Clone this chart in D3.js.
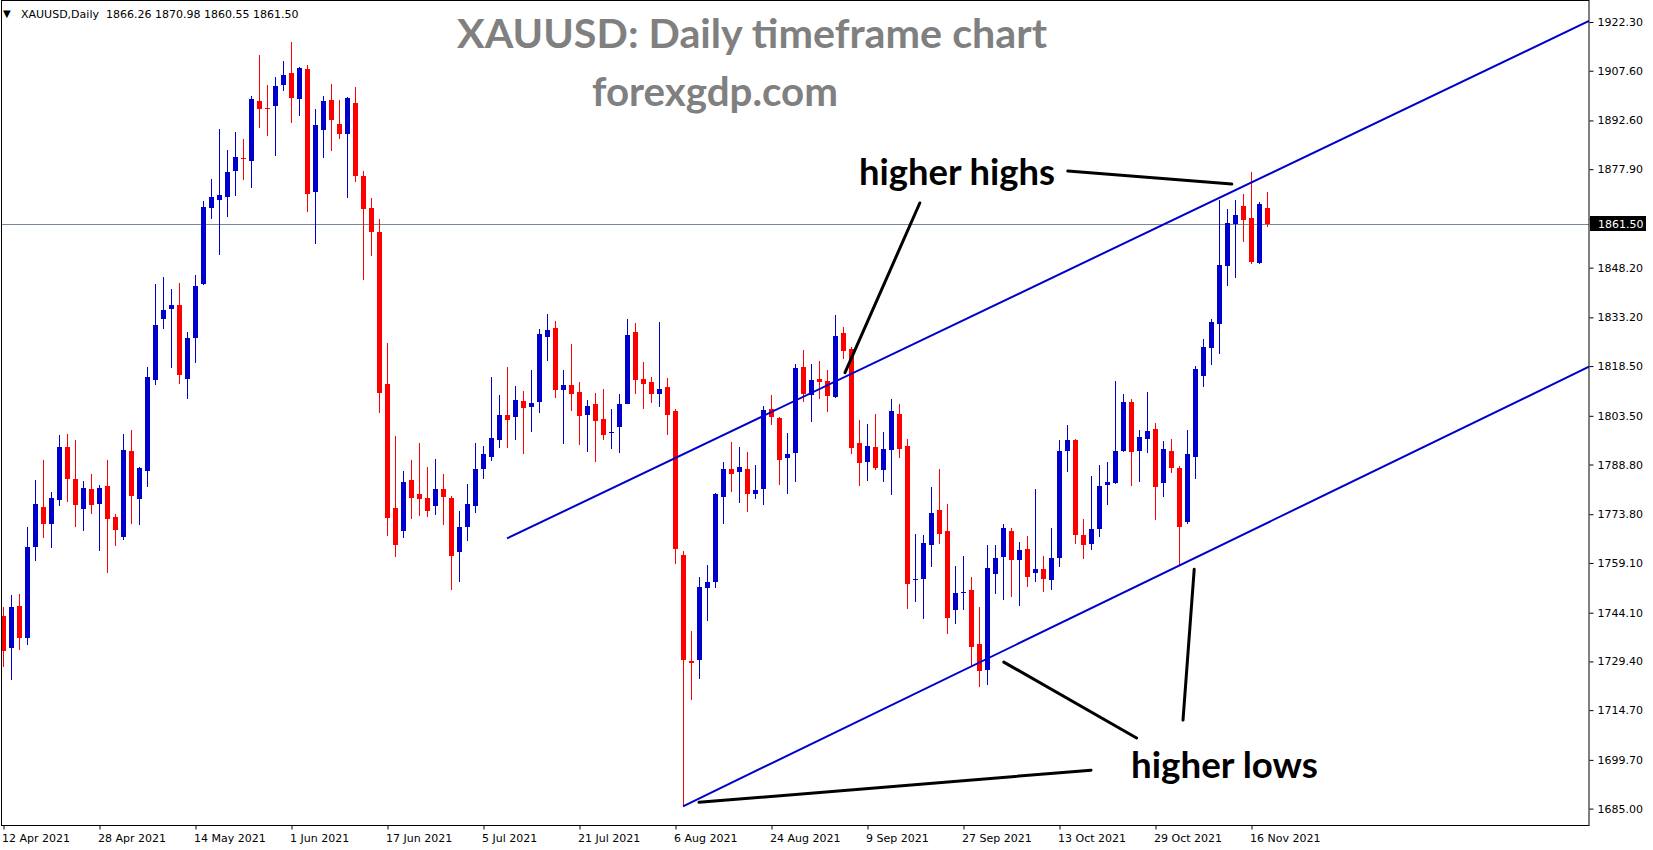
<!DOCTYPE html>
<html><head><meta charset="utf-8">
<script src="https://cdn.jsdelivr.net/npm/d3@7"></script>
<style>body{margin:0;background:#fff}svg{display:block}</style>
</head><body>
<svg id="chart" width="1653" height="850"></svg>
<script>
// ---------------- data ----------------
const symbol = "XAUUSD,Daily";
const opens = [1743.1,1733.6,1746.1,1736.5,1764.0,1776.0,1770.9,1778.2,1794.1,1784.4,1775.4,1781.4,1777.0,1782.3,1772.9,1767.0,1792.9,1778.5,1786.9,1814.4,
1832.8,1835.8,1836.9,1814.7,1827.1,1843.4,1866.3,1868.7,1869.5,1877.5,1881.4,1880.4,1898.5,1896.4,1897.0,1903.3,1906.9,1899.1,1908.2,1871.1,
1889.8,1898.7,1891.5,1888.6,1897.8,1875.8,1866.1,1858.9,1813.1,1775.6,1768.8,1784.1,1780.0,1778.7,1776.4,1781.3,1778.7,1762.5,1770.0,1776.4,
1787.3,1791.1,1796.3,1803.7,1803.0,1807.9,1806.2,1807.8,1827.3,1830.0,1811.4,1812.8,1810.6,1803.8,1807.1,1802.5,1798.2,1800.2,1807.2,1828.8,
1814.6,1813.7,1810.1,1812.2,1804.9,1761.5,1729.5,1729.9,1751.5,1753.4,1779.1,1787.4,1786.4,1787.4,1779.9,1781.5,1805.6,1802.8,1790.9,1792.3,
1818.2,1809.8,1814.6,1814.1,1809.2,1828.5,1823.6,1795.3,1789.6,1794.1,1787.2,1793.3,1804.0,1794.4,1753.9,1754.4,1764.6,1775.1,1768.7,1745.0,
1749.9,1751.0,1734.8,1726.9,1755.9,1761.0,1768.8,1760.1,1763.3,1756.2,1757.4,1754.1,1760.7,1793.0,1796.3,1767.5,1764.9,1769.5,1782.7,1783.1,
1793.0,1807.8,1793.0,1796.6,1799.6,1783.3,1793.0,1787.9,1771.6,1791.2,1815.6,1824.1,1831.3,1848.8,1861.5,1866.9,1863.3,1849.7,1866.26];
const highs = [1745.7,1749.3,1749.7,1769.9,1784.1,1790.2,1780.5,1797.7,1798.0,1796.2,1783.8,1785.9,1782.6,1790.2,1773.8,1798.0,1799.2,1788.0,1818.2,1843.3,
1845.4,1841.7,1843.6,1828.8,1846.0,1868.3,1874.9,1890.0,1883.7,1889.1,1887.0,1900.0,1912.4,1903.3,1905.7,1910.5,1916.3,1908.6,1909.3,1896.2,
1899.9,1903.6,1898.7,1899.8,1902.7,1877.3,1869.2,1862.9,1825.6,1797.4,1786.8,1790.1,1795.3,1788.0,1790.5,1786.0,1779.3,1774.8,1782.9,1795.3,
1794.4,1815.1,1809.9,1818.2,1812.5,1811.0,1817.3,1829.6,1834.2,1832.1,1817.3,1825.1,1813.7,1808.3,1810.3,1811.6,1805.5,1810.0,1832.7,1831.5,
1819.7,1815.2,1831.8,1814.9,1805.5,1762.7,1738.6,1755.0,1758.4,1780.2,1789.5,1795.6,1794.1,1792.6,1788.6,1806.5,1809.8,1803.2,1798.3,1819.1,
1823.3,1819.1,1820.0,1817.3,1833.9,1830.3,1824.3,1802.2,1801.0,1804.0,1798.6,1808.6,1807.1,1796.5,1767.9,1767.5,1782.0,1787.4,1776.9,1758.3,
1761.3,1754.9,1745.9,1764.6,1764.6,1770.9,1769.7,1765.5,1767.3,1781.5,1761.3,1769.7,1796.3,1800.8,1796.6,1772.4,1785.4,1788.8,1789.7,1814.1,
1810.2,1808.7,1799.3,1810.8,1801.4,1796.0,1796.6,1788.5,1799.3,1818.6,1826.8,1832.8,1868.7,1866.0,1868.7,1870.5,1877.0,1868.1,1870.98];
const lows = [1727.8,1723.7,1732.8,1734.3,1759.8,1766.7,1763.7,1776.4,1777.5,1770.0,1768.8,1773.9,1762.8,1756.1,1764.3,1766.1,1770.9,1770.6,1782.1,1812.9,
1829.8,1818.0,1813.2,1808.6,1819.5,1843.0,1862.9,1852.0,1863.5,1869.8,1874.6,1872.2,1890.3,1887.9,1881.9,1901.5,1891.8,1893.9,1865.1,1855.2,
1881.4,1883.5,1887.1,1869.3,1874.1,1844.5,1851.6,1804.4,1767.3,1761.0,1766.5,1772.5,1773.3,1773.0,1773.7,1770.6,1750.9,1753.5,1765.8,1774.2,
1784.4,1789.8,1793.7,1793.7,1796.3,1791.9,1798.7,1804.4,1820.0,1809.0,1795.0,1805.0,1794.7,1792.6,1789.5,1796.3,1793.5,1792.3,1807.1,1810.1,
1805.6,1807.3,1806.3,1797.8,1758.8,1685.7,1717.8,1724.1,1741.7,1751.5,1770.9,1780.5,1777.2,1774.4,1778.5,1776.7,1800.8,1782.6,1779.8,1783.6,
1807.8,1801.6,1808.6,1804.6,1808.9,1820.6,1792.1,1782.4,1783.9,1787.2,1783.6,1779.7,1790.9,1745.3,1747.4,1742.3,1758.0,1764.9,1737.8,1740.8,
1745.0,1728.1,1721.8,1722.4,1749.8,1748.0,1748.9,1746.2,1752.0,1753.5,1750.4,1751.0,1758.0,1786.6,1764.9,1760.4,1763.1,1767.0,1776.7,1782.8,
1792.7,1782.4,1783.6,1792.4,1772.2,1779.1,1786.3,1758.6,1770.9,1784.5,1812.3,1818.9,1822.2,1842.8,1845.2,1856.0,1849.4,1849.4,1860.55];
const closes = [1732.6,1745.7,1736.5,1763.9,1776.9,1770.9,1778.7,1794.1,1784.5,1776.7,1781.7,1776.7,1781.7,1772.4,1769.1,1793.2,1779.4,1787.7,1815.2,1830.9,
1835.4,1836.9,1815.9,1827.0,1842.7,1866.5,1869.5,1870.1,1877.1,1881.6,1881.2,1899.1,1896.1,1896.2,1903.0,1906.3,1899.4,1908.4,1870.5,1891.3,
1898.5,1892.6,1888.6,1899.5,1875.9,1866.0,1858.8,1810.3,1772.8,1764.6,1783.5,1778.8,1778.5,1774.9,1781.3,1779.0,1761.3,1769.9,1776.8,1787.4,
1792.0,1796.9,1803.7,1802.3,1808.2,1805.9,1807.5,1828.2,1829.4,1811.4,1812.8,1810.0,1803.5,1806.5,1802.0,1797.8,1798.5,1807.1,1827.9,1814.4,
1813.2,1810.1,1811.6,1803.8,1763.4,1729.9,1729.0,1751.8,1753.3,1779.8,1787.4,1785.8,1788.0,1779.9,1781.1,1805.2,1803.0,1790.3,1792.0,1817.9,
1810.1,1814.3,1813.8,1809.5,1827.6,1823.0,1793.9,1789.3,1794.4,1787.9,1793.5,1804.9,1793.6,1752.8,1754.3,1765.1,1774.2,1767.9,1742.6,1750.1,
1750.3,1733.9,1726.6,1757.7,1760.7,1769.7,1760.1,1763.0,1755.0,1757.4,1754.4,1760.7,1793.0,1796.3,1767.6,1764.6,1769.4,1782.4,1783.6,1793.0,
1807.8,1792.7,1797.2,1799.0,1782.1,1793.6,1787.9,1770.1,1792.1,1817.7,1824.4,1831.9,1849.1,1861.8,1864.2,1862.7,1850.0,1867.5,1861.50];
const dateTickIndex = [0,12,24,36,48,60,72,84,96,108,120,132,144,156];
const dateTickLabels = ["12 Apr 2021","28 Apr 2021","14 May 2021","1 Jun 2021","17 Jun 2021","5 Jul 2021","21 Jul 2021",
  "6 Aug 2021","24 Aug 2021","9 Sep 2021","27 Sep 2021","13 Oct 2021","29 Oct 2021","16 Nov 2021"];
const priceTicks = [1922.30,1907.60,1892.60,1877.90,1862.90,1848.20,1833.20,1818.50,1803.50,1788.80,1773.80,1759.10,1744.10,1729.40,1714.70,1699.70,1685.00];
// trend lines as [barIndex, price]
const channelUpper = [[63,1766.5],[198.25,1922.6]];
const channelLower = [[85,1685.7],[198.25,1818.3]];
const pointerLines = [
  [[133.1,1877.35],[153.6,1873.4]],
  [[114.6,1867.7],[105.25,1816.5]],
  [[125.1,1729.2],[141.7,1706.3]],
  [[148.9,1757.2],[147.5,1711.7]],
  [[87.0,1686.9],[136.0,1696.6]]
];
const notes = [{text:"higher highs", i:107.0, p:1873.0, len:196},{text:"higher lows", i:141.0, p:1694.2, len:187}];
const titleLines = ["XAUUSD: Daily timeframe chart","forexgdp.com"];

// ---------------- layout ----------------
const svg = d3.select("#chart");
const plot = {left:2, right:1589, top:1, bottom:825};
const x = d3.scaleLinear().domain([0,198.25]).range([3,1589]);
const y = d3.scaleLinear().domain([1685,1922.3]).range([808.6,22]);
const BLUE = "#0000CD", RED = "#FF0000";
const sans = "'DejaVu Sans', Verdana, sans-serif";

svg.append("rect").attr("width",1653).attr("height",850).attr("fill","#fff");

const defs = svg.append("defs");
defs.append("clipPath").attr("id","clip")
  .append("rect").attr("x",plot.left).attr("y",plot.top)
  .attr("width",plot.right-plot.left).attr("height",plot.bottom-plot.top);

const bars = d3.range(opens.length).map(i=>({i,o:opens[i],h:highs[i],l:lows[i],c:closes[i]}));
const last = bars[bars.length-1];
const tagY = Math.round(y(last.c));

const g = svg.append("g").attr("clip-path","url(#clip)");

// current price line
const yLast = tagY+0.5;
g.append("line").attr("x1",plot.left).attr("x2",plot.right).attr("y1",yLast).attr("y2",yLast)
  .attr("stroke","#778899").attr("stroke-width",1);

// candles
const cg = g.append("g");
cg.selectAll("line.wick").data(bars).join("line").attr("class","wick")
  .attr("x1",d=>Math.round(x(d.i))+0.5).attr("x2",d=>Math.round(x(d.i))+0.5)
  .attr("y1",d=>Math.round(y(d.h))).attr("y2",d=>Math.round(y(d.l)))
  .attr("stroke",d=>d.c>=d.o?BLUE:RED).attr("stroke-width",1);
cg.selectAll("rect.body").data(bars).join("rect").attr("class","body")
  .attr("x",d=>Math.round(x(d.i))-2).attr("width",5)
  .attr("y",d=>Math.round(y(Math.max(d.o,d.c))))
  .attr("height",d=>Math.max(1,Math.round(y(Math.min(d.o,d.c)))-Math.round(y(Math.max(d.o,d.c)))))
  .attr("fill",d=>d.c>=d.o?BLUE:RED);

// channel lines
const lineGen = d3.line().x(d=>x(d[0])).y(d=>y(d[1]));
g.selectAll("path.channel").data([channelUpper,channelLower]).join("path").attr("class","channel")
  .attr("d",lineGen).attr("fill","none").attr("stroke",BLUE).attr("stroke-width",2);

// pointer lines
g.selectAll("path.pointer").data(pointerLines).join("path").attr("class","pointer")
  .attr("d",lineGen).attr("fill","none").attr("stroke","#000").attr("stroke-width",3).attr("stroke-linecap","round");

// notes
svg.selectAll("text.note").data(notes).join("text").attr("class","note")
  .attr("x",d=>x(d.i)).attr("y",d=>y(d.p))
  .attr("textLength",d=>d.len).attr("lengthAdjust","spacingAndGlyphs")
  .attr("font-family","Lato, 'Open Sans', sans-serif").attr("font-weight","bold").attr("font-size",36)
  .attr("fill","#000").text(d=>d.text);

// titles
const titleSpec = [{x:457, y:48, len:590},{x:592, y:106, len:246}];
svg.selectAll("text.title").data(titleLines).join("text").attr("class","title")
  .attr("x",(d,k)=>titleSpec[k].x).attr("y",(d,k)=>titleSpec[k].y)
  .attr("textLength",(d,k)=>titleSpec[k].len).attr("lengthAdjust","spacingAndGlyphs")
  .attr("font-family","Lato, 'Open Sans', sans-serif").attr("font-weight","bold").attr("font-size",40)
  .attr("fill","#808080").text(d=>d);

// frame
svg.append("rect").attr("x",plot.left-0.5).attr("y",0.5)
  .attr("width",plot.right-plot.left+0.5).attr("height",plot.bottom)
  .attr("fill","none").attr("stroke","#000").attr("stroke-width",1);

// header
svg.append("text").attr("x",3).attr("y",17).attr("font-family",sans).attr("font-size",10).attr("fill","#000").text("\u25BC");
svg.append("text").attr("x",21).attr("y",18).attr("font-family",sans).attr("font-size",11).attr("fill","#000")
  .attr("xml:space","preserve").style("white-space","pre")
  .text(`${symbol}  ${last.o.toFixed(2)} ${last.h.toFixed(2)} ${last.l.toFixed(2)} ${last.c.toFixed(2)}`);

// right axis
defs.append("clipPath").attr("id","tagclip")
  .append("rect").attr("x",-10).attr("y",0).attr("width",80).attr("height",tagY-8);
const ya = svg.append("g").attr("transform",`translate(${plot.right+0.5},0)`)
  .call(d3.axisRight(y).tickValues(priceTicks).tickFormat(d3.format(".2f")).tickSize(4).tickPadding(4));
ya.select(".domain").remove();
ya.selectAll("line").attr("stroke","#000");
ya.selectAll("text").attr("font-family",sans).attr("font-size",11).attr("fill","#000");
// the tick label hidden behind the price tag only shows its top edge, as in the reference
ya.selectAll(".tick").filter(d=>Math.abs(y(d)-tagY)<10).select("text").attr("clip-path","url(#tagclip)");

// bottom axis
const xa = svg.append("g").attr("transform",`translate(0.5,${plot.bottom+0.5})`)
  .call(d3.axisBottom(x).tickValues(dateTickIndex).tickFormat((d,k)=>dateTickLabels[k]).tickSize(4).tickPadding(5));
xa.select(".domain").remove();
xa.selectAll("line").attr("stroke","#000");
xa.selectAll("text").attr("font-family",sans).attr("font-size",11).attr("fill","#000")
  .attr("text-anchor","start").attr("dx",-2);

// price tag
const tag = svg.append("g").attr("transform",`translate(${plot.right+1},${tagY})`);
tag.append("rect").attr("x",0).attr("y",-8).attr("width",56).attr("height",15).attr("fill","#000");
tag.append("text").attr("x",8).attr("y",4).attr("font-family",sans).attr("font-size",11).attr("fill","#fff")
  .text(last.c.toFixed(2));
</script>
</body></html>
